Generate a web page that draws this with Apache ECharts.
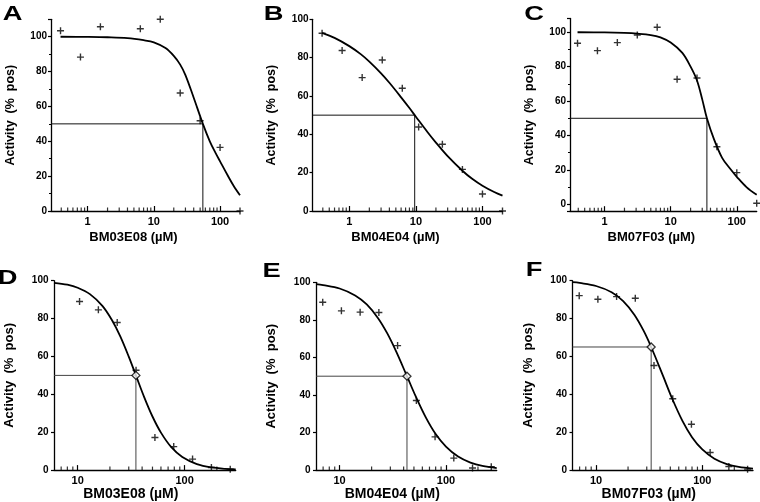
<!DOCTYPE html>
<html>
<head>
<meta charset="utf-8">
<script src="https://cdn.jsdelivr.net/npm/echarts@6/dist/echarts.min.js"></script>
<style>
html, body { margin: 0; padding: 0; background: #fff; }
#main { width: 760px; height: 502px; }
</style>
</head>
<body>
<div id="main"></div>
<script>
// measured points (concentration in uM, activity in % pos)
var aConc = [0.39, 0.78, 1.56, 6.25, 12.5, 25, 50, 100, 200]
var aAct = [103.4, 88.3, 105.7, 104.6, 110, 67.7, 51.8, 36.5, 0]
var bConc = [0.39, 0.78, 1.56, 3.125, 6.25, 11, 25, 50, 100, 200]
var bAct = [92.7, 83.7, 69.6, 78.8, 64, 43.8, 34.8, 21.7, 8.9, 0]
var cConc = [0.39, 0.78, 1.56, 3.125, 6.25, 12.5, 25, 50, 100, 200]
var cAct = [93.6, 89.3, 94, 98.4, 102.9, 72.7, 73.4, 33.5, 18.4, 0.6]
var dConc = [10.4, 15.6, 23.4, 35.1, 52.7, 79, 118.5, 177.8, 266.7]
var dAct = [89, 84.6, 77.9, 52.7, 17.2, 12.4, 5.8, 1.4, 0.5]
var eConc = [6.94, 10.4, 15.6, 23.4, 35.1, 52.7, 79, 118.5, 177.8, 266.7]
var eAct = [89.4, 84.8, 84.1, 83.9, 66.3, 37.1, 17.7, 6.4, 1.1, 1.8]
var fConc = [6.94, 10.4, 15.6, 23.4, 35.1, 52.7, 79, 118.5, 177.8, 266.7]
var fAct = [92.1, 90.2, 91.6, 90.7, 55.2, 37.7, 24.2, 9.3, 1.9, 0.5]

// fitted curves
var aFitX = [0.39, 1, 2, 4, 7, 10, 15, 20, 25, 30, 40, 55, 70, 85, 100, 130, 160, 200]
var aFitY = [100, 99.9, 99.7, 99.2, 98, 96.8, 93.5, 89, 84, 78, 65, 50, 40, 33.5, 28.5, 20.5, 14.5, 9]
var bFitX = [0.39, 0.6, 1, 1.5, 2, 3, 4, 6, 8, 10, 15, 20, 30, 50, 70, 100, 150, 200]
var bFitY = [92.9, 90.3, 86, 81.7, 77.9, 71.8, 66.9, 59.3, 53.7, 49.2, 41.1, 35.7, 28.6, 21, 16.8, 13.2, 9.9, 8]
var cFitX = [0.39, 1, 2, 3.125, 5, 7, 10, 15, 20, 25, 30, 35.3, 45, 60, 80, 100, 140, 200]
var cFitY = [100, 99.9, 99.6, 99.2, 98.4, 97, 94, 88, 80, 72, 61, 50, 38, 27, 20.5, 16, 10, 5.5]
var dFitX = [6, 8, 10, 13, 17, 21, 25, 30, 35, 42, 50, 60, 75, 95, 130, 180, 240, 300]
var dFitY = [98.9, 97.9, 96.3, 92.9, 86.7, 79, 70.6, 59.9, 50, 38.3, 28.3, 19.8, 12.1, 6.9, 3.2, 1.4, 0.7, 0.4]
var eFitX = [6, 7, 10, 14, 18, 23, 28, 34, 43, 52, 65, 80, 100, 130, 170, 220, 300]
var eFitY = [99, 98.5, 96.7, 93, 88.2, 80.9, 72.9, 63.2, 50, 39.2, 27.8, 19.2, 12.5, 7.2, 4, 2.2, 1.1]
var fFitX = [6, 7, 10, 14, 18, 23, 28, 33, 42.5, 52, 65, 80, 100, 130, 170, 220, 300]
var fFitY = [99.2, 98.8, 97.2, 93.9, 89.2, 81.9, 73.6, 65, 50, 37.8, 26, 17.4, 10.9, 6, 3.2, 1.7, 0.8]

// IC50 read-out point [conc, activity]
var aIc = [55, 50]
var bIc = [9.6, 50]
var cIc = [35.3, 50]
var dIc = [35, 50]
var eIc = [43, 50]
var fIc = [33, 65]

// log minor tick values
var topMinor = [0.4, 0.5, 0.6, 0.7, 0.8, 0.9, 2, 3, 4, 5, 6, 7, 8, 9, 20, 30, 40, 50, 60, 70, 80, 90]
var bottomMinor = [7, 8, 9, 20, 30, 40, 50, 60, 70, 80, 90, 200]

var FONT = '"Liberation Sans", Arial, Helvetica, sans-serif'
var PLUS = 'path://M4,0h2v10h-2zM0,4h10v2h-10z'

var zip = function(xs, ys) {
    var out = []
    for (var i = 0; i < xs.length; i++) {
        out.push([xs[i], ys[i]])
    }
    return out
}

var isDecade = function(v) {
    var l = Math.log(v) / Math.LN10
    return Math.abs(l - Math.round(l)) < 1e-6
}

var panels = [
    {letter: 'A', pos: [12.5, 14.5], name: 'BM03E08 (µM)', conc: aConc, act: aAct, fitX: aFitX, fitY: aFitY, ic: aIc,
     xMin: 0.28, xMax: 200, yMin: 0, yMax: 110, yMinor: true, top: true, box: [51, 19.3, 189, 191.7]},
    {letter: 'B', pos: [273.5, 14], name: 'BM04E04 (µM)', conc: bConc, act: bAct, fitX: bFitX, fitY: bFitY, ic: bIc,
     xMin: 0.28, xMax: 200, yMin: 0, yMax: 100, yMinor: false, top: true, box: [312.5, 19.3, 190, 191.7]},
    {letter: 'C', pos: [534, 14], name: 'BM07F03 (µM)', conc: cConc, act: cAct, fitX: cFitX, fitY: cFitY, ic: cIc,
     xMin: 0.3, xMax: 200, yMin: -4, yMax: 108, yMinor: true, top: true, box: [570, 18.5, 186.7, 192.7]},
    {letter: 'D', pos: [7.5, 278], name: 'BM03E08 (µM)', conc: dConc, act: dAct, fitX: dFitX, fitY: dFitY, ic: dIc,
     xMin: 6, xMax: 300, yMin: 0, yMax: 100, yMinor: false, top: false, box: [54, 280.7, 181.7, 190.3]},
    {letter: 'E', pos: [271.5, 271], name: 'BM04E04 (µM)', conc: eConc, act: eAct, fitX: eFitX, fitY: eFitY, ic: eIc,
     xMin: 6, xMax: 300, yMin: 0, yMax: 100, yMinor: false, top: false, box: [316, 282.3, 180.7, 188.7]},
    {letter: 'F', pos: [534, 270], name: 'BM07F03 (µM)', conc: fConc, act: fAct, fitX: fFitX, fitY: fFitY, ic: fIc,
     xMin: 6, xMax: 300, yMin: 0, yMax: 100, yMinor: false, top: false, box: [572.5, 280.7, 180.5, 190.3]}
]

var option = {
    animation: false,
    backgroundColor: '#fff',
    grid: [],
    xAxis: [],
    yAxis: [],
    series: [],
    graphic: []
}

panels.forEach(function(p, i) {
    option.grid.push({
        left: p.box[0], top: p.box[1], width: p.box[2], height: p.box[3]
    })
    option.xAxis.push({
        type: 'log',
        logBase: 10,
        gridIndex: i,
        min: p.xMin,
        max: p.xMax,
        name: p.name,
        nameLocation: 'middle',
        nameGap: p.top ? 19.5 : 14,
        nameTextStyle: {
            color: '#000', fontFamily: FONT, fontWeight: 'bold',
            fontSize: p.top ? 13 : 14, padding: [0, p.top ? 24 : 28, 0, 0]
        },
        axisLine: {onZero: false, lineStyle: {color: '#000', width: 1.3}},
        axisTick: {show: true, inside: true, length: 5, lineStyle: {color: '#000', width: 1.2}},
        minorTick: {show: false},
        axisLabel: {
            showMinLabel: false, showMaxLabel: false, margin: 5,
            color: '#000', fontFamily: FONT, fontWeight: 'bold', fontSize: 11,
            formatter: function(v) { return isDecade(v) ? String(Math.round(v)) : '' }
        },
        splitLine: {show: false}
    })
    option.yAxis.push({
        type: 'value',
        gridIndex: i,
        min: p.yMin,
        max: p.yMax,
        splitNumber: 5,
        name: 'Activity  (%  pos)',
        nameLocation: 'middle',
        nameRotate: 90,
        nameGap: p.top ? 34 : 38,
        nameTextStyle: {color: '#000', fontFamily: FONT, fontWeight: 'bold', fontSize: p.top ? 12.5 : 13},
        axisLine: {show: true, onZero: false, lineStyle: {color: '#000', width: 1.3}},
        axisTick: {show: true, inside: false, length: 3, lineStyle: {color: '#000', width: 1.2}},
        minorTick: {show: p.yMinor, splitNumber: 2, length: 2, lineStyle: {color: '#000', width: 1}},
        axisLabel: {
            margin: p.top ? 4 : 5.5,
            color: '#000', fontFamily: FONT, fontWeight: 'bold', fontSize: 10,
            formatter: function(v) { return (v >= 0 && v % 20 === 0) ? String(v) : '' }
        },
        splitLine: {show: false}
    })

    // IC50 guide lines
    option.series.push({
        type: 'line', xAxisIndex: i, yAxisIndex: i,
        data: [[p.xMin, p.ic[1]], [p.ic[0], p.ic[1]], [p.ic[0], p.yMin]],
        symbol: 'none', silent: true, z: 2,
        lineStyle: {color: p.top ? '#111' : '#444', width: 1}
    })
    // fitted curve
    option.series.push({
        type: 'line', xAxisIndex: i, yAxisIndex: i,
        data: zip(p.fitX, p.fitY),
        smooth: 0.35,
        symbol: 'none', silent: true, z: 3,
        lineStyle: {color: '#000', width: 1.8}
    })
    // data points
    option.series.push({
        type: 'scatter', xAxisIndex: i, yAxisIndex: i,
        data: zip(p.conc, p.act),
        symbol: PLUS, symbolSize: 7, clip: false, z: 4,
        itemStyle: {color: '#000'}
    })
    // minor log ticks on x axis
    option.series.push({
        type: 'scatter', xAxisIndex: i, yAxisIndex: i,
        data: (p.top ? topMinor : bottomMinor).map(function(t) { return [t, p.yMin] }),
        symbol: 'rect', symbolSize: [1.2, 3.5], symbolOffset: [0, -1.75],
        silent: true, clip: false, z: 5,
        itemStyle: {color: '#000'}
    })
    if (!p.top) {
        option.series.push({
            type: 'scatter', xAxisIndex: i, yAxisIndex: i,
            data: [p.ic],
            symbol: 'diamond', symbolSize: 8, clip: false, z: 6,
            itemStyle: {color: '#fff', borderColor: '#000', borderWidth: 1.3}
        })
    }

    option.graphic.push({
        type: 'text',
        x: p.pos[0], y: p.pos[1],
        scaleX: 1.3,
        style: {
            text: p.letter, x: 0, y: 0,
            align: 'center', verticalAlign: 'middle',
            font: 'bold 21px ' + FONT, fill: '#000'
        }
    })
})

var chart = echarts.init(document.getElementById('main'))
chart.setOption(option)
</script>
</body>
</html>
